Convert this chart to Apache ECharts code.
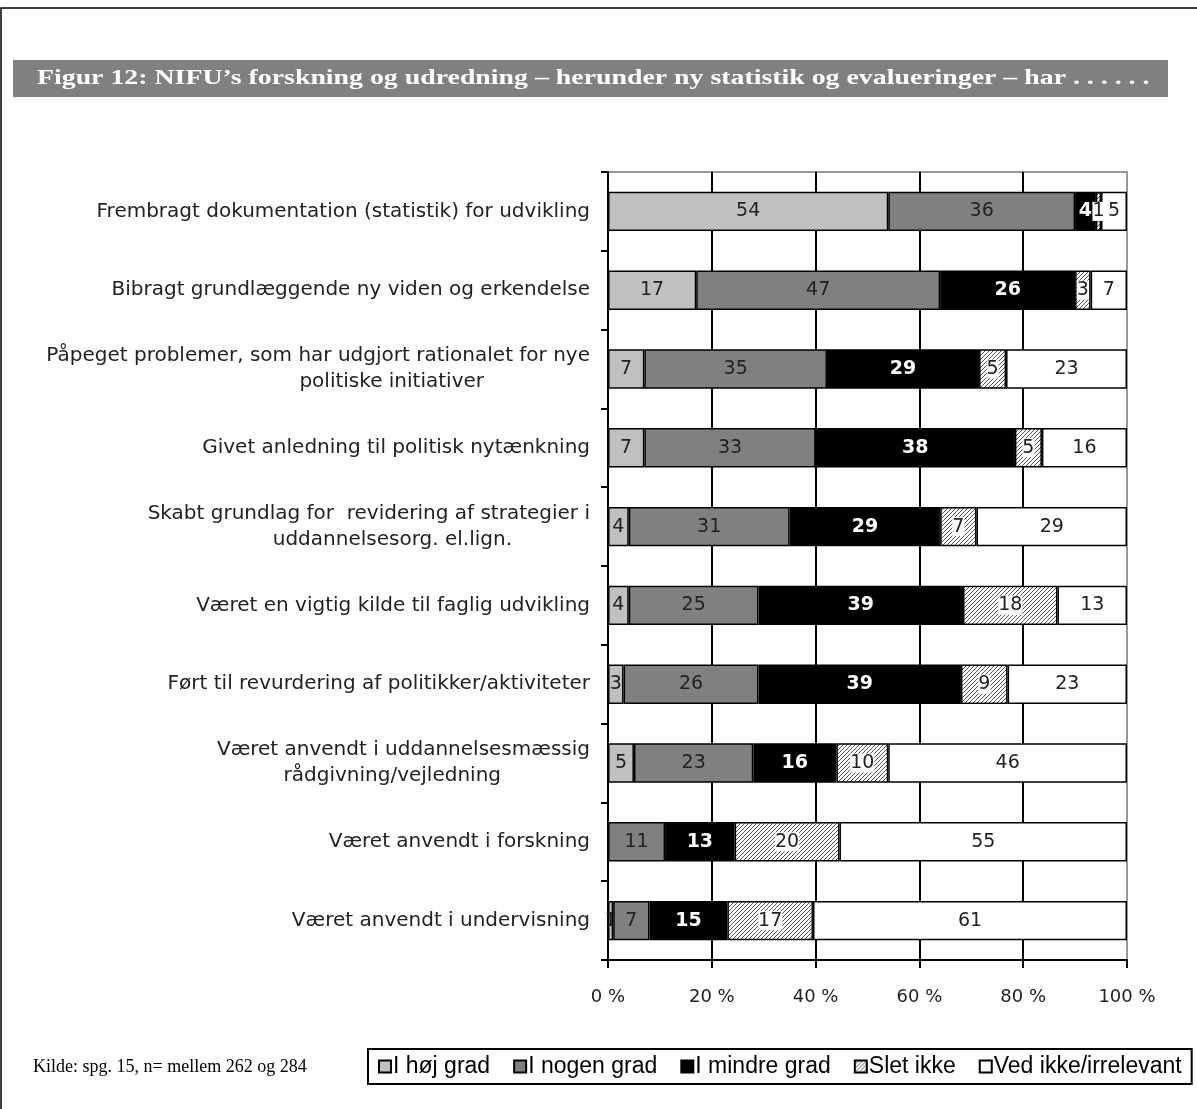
<!DOCTYPE html>
<html>
<head>
<meta charset="utf-8">
<script src="https://cdn.jsdelivr.net/npm/echarts@6/dist/echarts.min.js"></script>
<style>
html,body{margin:0;padding:0;background:#fff;}
#chart{width:1197px;height:1109px;}
</style>
</head>
<body>
<div id="chart"></div>
<script>
const categories = [
  'Frembragt dokumentation (statistik) for udvikling',
  'Bibragt grundlæggende ny viden og erkendelse',
  'Påpeget problemer, som har udgjort rationalet for nye\npolitiske initiativer',
  'Givet anledning til politisk nytænkning',
  'Skabt grundlag for  revidering af strategier i\nuddannelsesorg. el.lign.',
  'Været en vigtig kilde til faglig udvikling',
  'Ført til revurdering af politikker/aktiviteter',
  'Været anvendt i uddannelsesmæssig\nrådgivning/vejledning',
  'Været anvendt i forskning',
  'Været anvendt i undervisning'
];
const seriesNames = ['I høj grad', 'I nogen grad', 'I mindre grad', 'Slet ikke', 'Ved ikke/irrelevant'];
const hoej    = [54, 17, 7, 7, 4, 4, 3, 5, 0, 1];
const nogen   = [36, 47, 35.2, 33, 31, 25, 26, 23, 11, 7];
const mindre  = [4, 26, 29.3, 38.4, 29, 39.4, 39, 16, 13.4, 15];
const slet    = [1, 3, 5.2, 5.2, 7, 18.2, 9, 10, 20.2, 16.5];
const vedIkke = [5, 7, 23.3, 16.4, 29, 13.4, 23, 46, 55.4, 60.5];
const xTicks = [0, 20, 40, 60, 80, 100];

const titleText = 'Figur 12: NIFU’s forskning og udredning – herunder ny statistik og evalueringer – har . . . . . .';
const sourceText = 'Kilde: spg. 15, n= mellem 262 og 284';

// hatch pattern
const pc = document.createElement('canvas');
pc.width = 4; pc.height = 4;
const px = pc.getContext('2d');
px.fillStyle = '#fff'; px.fillRect(0, 0, 4, 4);
px.strokeStyle = '#555'; px.lineWidth = 1;
px.beginPath();
px.moveTo(-1, 5); px.lineTo(5, -1);
px.moveTo(-1, 1); px.lineTo(1, -1);
px.moveTo(3, 5); px.lineTo(5, 3);
px.stroke();

const FONT = 'DejaVu Sans';
const CAT_SIZE = 20;

// rich styles: second lines of wrapped category labels are centred around a common point
const mc = document.createElement('canvas').getContext('2d');
mc.font = CAT_SIZE + 'px "' + FONT + '"';
const rich = {a: {fontFamily: FONT, fontSize: CAT_SIZE, color: '#222', lineHeight: 26}};
categories.forEach((c, i) => {
  const parts = c.split('\n');
  if (parts.length > 1) {
    const w = mc.measureText(parts[1]).width;
    const pad = Math.max(0, Math.round(198 - w / 2));
    rich['b' + i] = {fontFamily: FONT, fontSize: CAT_SIZE, color: '#222', lineHeight: 26, align: 'right', padding: [0, pad, 0, 0]};
  }
});

const fills = ['#c0c0c0', '#808080', '#000000', {image: pc, repeat: 'repeat'}, '#ffffff'];
const labelColors = ['#222', '#222', '#fff', '#222', '#222'];
const dataSets = [hoej, nogen, mindre, slet, vedIkke];

const series = dataSets.map((d, i) => ({
  name: seriesNames[i],
  type: 'bar',
  stack: 'all',
  barWidth: '50%',
  data: d,
  itemStyle: {color: fills[i], borderColor: '#000', borderWidth: 1.5},
  label: {
    show: true,
    position: 'inside',
    formatter: p => p.value > 0 ? String(Math.round(p.value)) : '',
    color: labelColors[i],
    fontFamily: FONT,
    fontSize: 19,
    fontWeight: i === 2 ? 'bold' : 'normal',
    backgroundColor: i === 3 ? '#fff' : 'transparent'
  },
  emphasis: {disabled: true}
}));

const chart = echarts.init(document.getElementById('chart'), null, {renderer: 'canvas'});
chart.setOption({
  animation: false,
  backgroundColor: '#fff',
  grid: {left: 608, right: 70, top: 172, bottom: 149, show: true, borderColor: '#999', borderWidth: 2, containLabel: false},
  xAxis: {
    type: 'value', min: 0, max: 100, interval: 20,
    axisLine: {show: true, lineStyle: {color: '#000', width: 2}},
    axisTick: {show: true, length: 8, lineStyle: {color: '#000', width: 2}},
    splitLine: {show: true, lineStyle: {color: ['#000', '#000', '#000', '#000', '#000', '#999'], width: 2}},
    axisLabel: {formatter: v => xTicks.includes(v) ? v + ' %' : '', fontFamily: FONT, fontSize: 18, color: '#222', margin: 28}
  },
  yAxis: {
    type: 'category', data: categories, inverse: true,
    axisLine: {show: true, lineStyle: {color: '#000', width: 2}},
    axisTick: {show: true, length: 7, lineStyle: {color: '#000', width: 2}},
    axisLabel: {
      fontFamily: FONT, fontSize: CAT_SIZE, color: '#222', margin: 18, align: 'right', lineHeight: 26,
      formatter: (v, idx) => {
        const parts = v.split('\n');
        if (parts.length === 1) return '{a|' + parts[0] + '}';
        return '{a|' + parts[0] + '}\n{b' + idx + '|' + parts[1] + '}';
      },
      rich: rich
    }
  },
  legend: {
    data: seriesNames,
    left: 368, top: 1049,
    orient: 'horizontal',
    itemWidth: 12, itemHeight: 12, itemGap: 23,
    icon: 'rect',
    padding: [6, 10, 6, 10],
    borderColor: '#000', borderWidth: 2,
    textStyle: {fontFamily: 'Liberation Sans', fontSize: 23, color: '#000', padding: [0, 0, 0, -3]},
    selectedMode: false
  },
  graphic: [
    {type: 'rect', shape: {x: 1, y: 8, width: 1300, height: 1300}, style: {fill: 'none', stroke: '#000', lineWidth: 1.5}, silent: true, z: -10},
    {type: 'rect', shape: {x: 13, y: 60, width: 1155, height: 37}, style: {fill: '#808080'}, silent: true},
    {type: 'text', x: 37, y: 67, scaleX: 1.265, style: {text: titleText, fill: '#fff', font: 'bold 22px "Liberation Serif"'}, silent: true},
    {type: 'text', left: 33, top: 1058, style: {text: sourceText, fill: '#000', font: '18px "Liberation Serif"'}, silent: true}
  ],
  series: series
});
</script>
</body>
</html>
